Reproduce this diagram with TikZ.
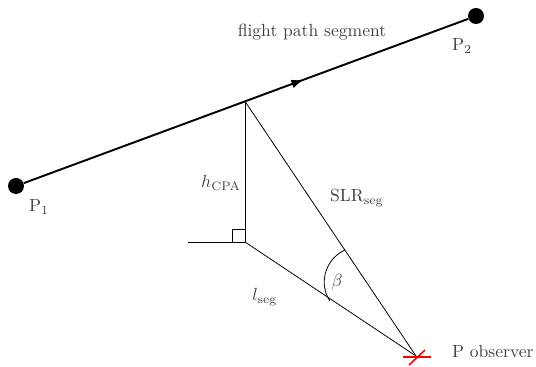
\documentclass[tikz,border=0pt]{standalone}
\usepackage{tikz}
\usetikzlibrary{arrows.meta,positioning,decorations.markings}
\definecolor{labelcolor}{gray}{0.25}

\begin{document}
\begin{tikzpicture}[x=0.02cm, y=0.02cm,
    endpt/.style={circle, fill=black, inner sep=0pt, minimum size=0.32cm},
    lbl/.style={font=\normalsize, text=labelcolor, inner sep=1pt},
    flightpath/.style={line width=1.1pt, postaction={decorate},
                       decoration={markings, mark=at position 0.63 with {\arrow{Latex[length=7pt,width=5pt]}}}},
    geom/.style={line width=0.45pt},
    obsmark/.style={draw=red, line width=0.9pt}
  ]
    \useasboundingbox (0,0) rectangle (536,367);

    \node[endpt] (p1) at (16,181)  {};
    \node[endpt] (p2) at (476,351) {};
    \coordinate (cpa)  at (245,265.6);
    \coordinate (foot) at (245,125);
    \coordinate (lend) at (188,125);
    \coordinate (obs)  at (416,11);
    \coordinate (betastart) at (345,117);

    \draw[flightpath] (p1) -- (p2);
    \draw[geom] (cpa) -- (foot);
    \draw[geom] (lend) -- (foot);
    \draw[geom] (foot) -- (obs);
    \draw[geom] (cpa) -- (obs);

    % right angle and beta
    \draw[geom] (foot) ++(-13,0) -- ++(0,13) -- ++(13,0);
    \draw[geom] (betastart) arc[start angle=114, end angle=213, radius=0.7cm];

    % observer marker
    \draw[obsmark] (obs) ++(-13,-1) -- ++(28,0);
    \draw[obsmark] (obs) ++(-7,-9) -- ++(16,15);

    \node[lbl] (seglbl) at (312,335) {flight path segment};
    \node[lbl] (p1lbl)  at (39,160)  {$\mathrm{P}_1$};
    \node[lbl] (p2lbl)  at (462,321) {$\mathrm{P}_2$};
    \node[lbl] (hlbl)   at (221,184) {$h_{\mathrm{CPA}}$};
    \node[lbl] (slrlbl) at (357,169) {$\mathrm{SLR}_{\mathrm{seg}}$};
    \node[lbl] (betalbl) at (337,85) {$\beta$};
    \node[lbl] (llbl)   at (265,70)  {$l_{\mathrm{seg}}$};
    \node[lbl, anchor=west] (obslbl) at (450,15) {P observer};
\end{tikzpicture}
\end{document}
